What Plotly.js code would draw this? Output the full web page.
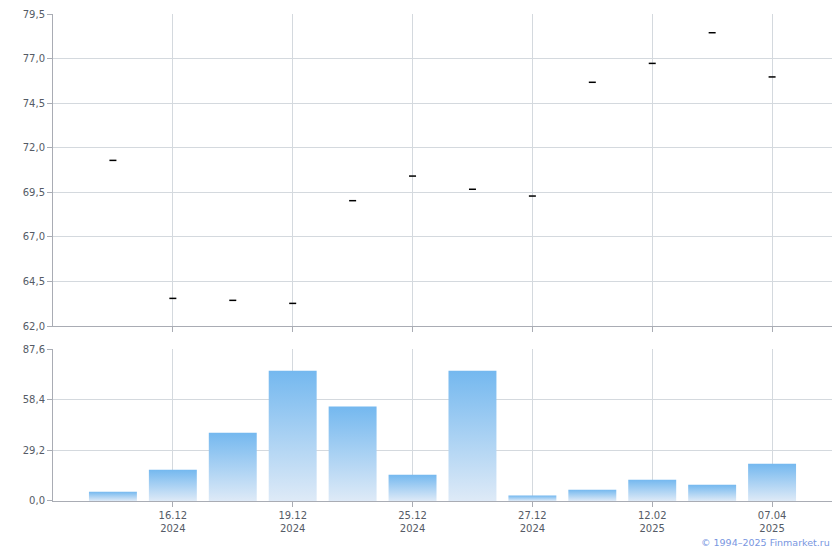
<!DOCTYPE html>
<html>
<head>
<meta charset="utf-8">
<script src="https://cdn.plot.ly/plotly-3.0.1.min.js"></script>
<style>
html,body{margin:0;padding:0;background:#fff;}
#chart{width:840px;height:550px;}
</style>
</head>
<body>
<div id="chart"></div>
<script>
// Category slots (index positions on a category axis)
const slots = [0,1,2,3,4,5,6,7,8,9,10,11];
// Price points (upper panel)
const prices = [71.29, 63.55, 63.44, 63.27, 69.03, 70.41, 69.67, 69.29, 75.67, 76.73, 78.45, 75.97];
// Volume bars (lower panel)
const volumes = [5.4, 18.0, 39.4, 75.1, 54.4, 15.2, 75.1, 3.1, 6.5, 12.3, 9.4, 21.5];
// Date tick labels
const tickSlots = [1,3,5,7,9,11];
const tickLabels = ['16.12<br>2024','19.12<br>2024','25.12<br>2024','27.12<br>2024','12.02<br>2025','07.04<br>2025'];
const priceTicks = [62.0, 64.5, 67.0, 69.5, 72.0, 74.5, 77.0, 79.5];
const volumeTicks = [0.0, 29.2, 58.4, 87.6];

const gridColor = '#d4d9de';
const axisColor = '#a9acb4';
const fontColor = '#555b66';

const traces = [
  {
    type: 'scatter', mode: 'markers', x: slots, y: prices, xaxis: 'x2', yaxis: 'y2',
    marker: {symbol: 'line-ew', size: 5, color: '#000', line: {color: '#000', width: 1.5}},
    hoverinfo: 'skip', showlegend: false
  },
  {
    type: 'bar', x: slots, y: volumes, xaxis: 'x', yaxis: 'y', width: 0.8,
    marker: {color: '#a6cff2', line: {width: 0}},
    hoverinfo: 'skip', showlegend: false
  }
];

const xCommon = {
  range: [-1, 12], tickmode: 'array', tickvals: tickSlots,
  showgrid: true, gridcolor: gridColor, gridwidth: 1,
  showline: true, linecolor: axisColor, linewidth: 1,
  ticks: 'outside', ticklen: 5, tickcolor: axisColor,
  zeroline: false, fixedrange: true
};

const layout = {
  width: 840, height: 550,
  margin: {l: 53, r: 8, t: 14, b: 49},
  paper_bgcolor: '#fff', plot_bgcolor: '#fff',
  separators: ', ',
  font: {family: '"DejaVu Sans", Verdana, sans-serif', size: 10, color: fontColor},
  showlegend: false,
  bargap: 0.2,
  xaxis: Object.assign({}, xCommon, {anchor: 'y', ticktext: tickLabels, showticklabels: true}),
  xaxis2: Object.assign({}, xCommon, {anchor: 'y2', ticktext: tickLabels, showticklabels: false, matches: 'x'}),
  yaxis: {
    domain: [0, 0.3121], anchor: 'x', range: [0, 87.6],
    tickmode: 'array', tickvals: volumeTicks, tickformat: '.1f',
    showgrid: true, gridcolor: gridColor, showline: true, linecolor: axisColor,
    ticks: 'outside', ticklen: 5, tickcolor: axisColor, zeroline: false, fixedrange: true
  },
  yaxis2: {
    domain: [0.3593, 1], anchor: 'x2', range: [62, 79.5],
    tickmode: 'array', tickvals: priceTicks, tickformat: '.1f',
    showgrid: true, gridcolor: gridColor, showline: true, linecolor: axisColor,
    ticks: 'outside', ticklen: 5, tickcolor: axisColor, zeroline: false, fixedrange: true
  },
  annotations: [{
    text: '© 1994–2025 Finmarket.ru', xref: 'paper', yref: 'paper',
    x: 1, y: -0.086, xanchor: 'right', yanchor: 'middle', showarrow: false,
    font: {family: '"DejaVu Sans", Verdana, sans-serif', size: 9.5, color: '#7896df'}
  }]
};

Plotly.newPlot('chart', traces, layout, {staticPlot: true, displayModeBar: false}).then(function(gd){
  const svg = gd.querySelector('svg.main-svg');
  const ns = 'http://www.w3.org/2000/svg';
  let defs = svg.querySelector('defs');
  if (!defs) { defs = document.createElementNS(ns, 'defs'); svg.insertBefore(defs, svg.firstChild); }
  const grad = document.createElementNS(ns, 'linearGradient');
  grad.setAttribute('id', 'bargrad');
  grad.setAttribute('x1', '0'); grad.setAttribute('y1', '0');
  grad.setAttribute('x2', '0'); grad.setAttribute('y2', '1');
  [['0', '#74b8ef'], ['1', '#deeaf7']].forEach(function(s){
    const st = document.createElementNS(ns, 'stop');
    st.setAttribute('offset', s[0]); st.setAttribute('stop-color', s[1]);
    grad.appendChild(st);
  });
  defs.appendChild(grad);
  gd.querySelectorAll('.barlayer .point path').forEach(function(p){
    p.style.fill = 'url(#bargrad)';
    p.style.fillOpacity = '1';
  });
});
</script>
</body>
</html>
